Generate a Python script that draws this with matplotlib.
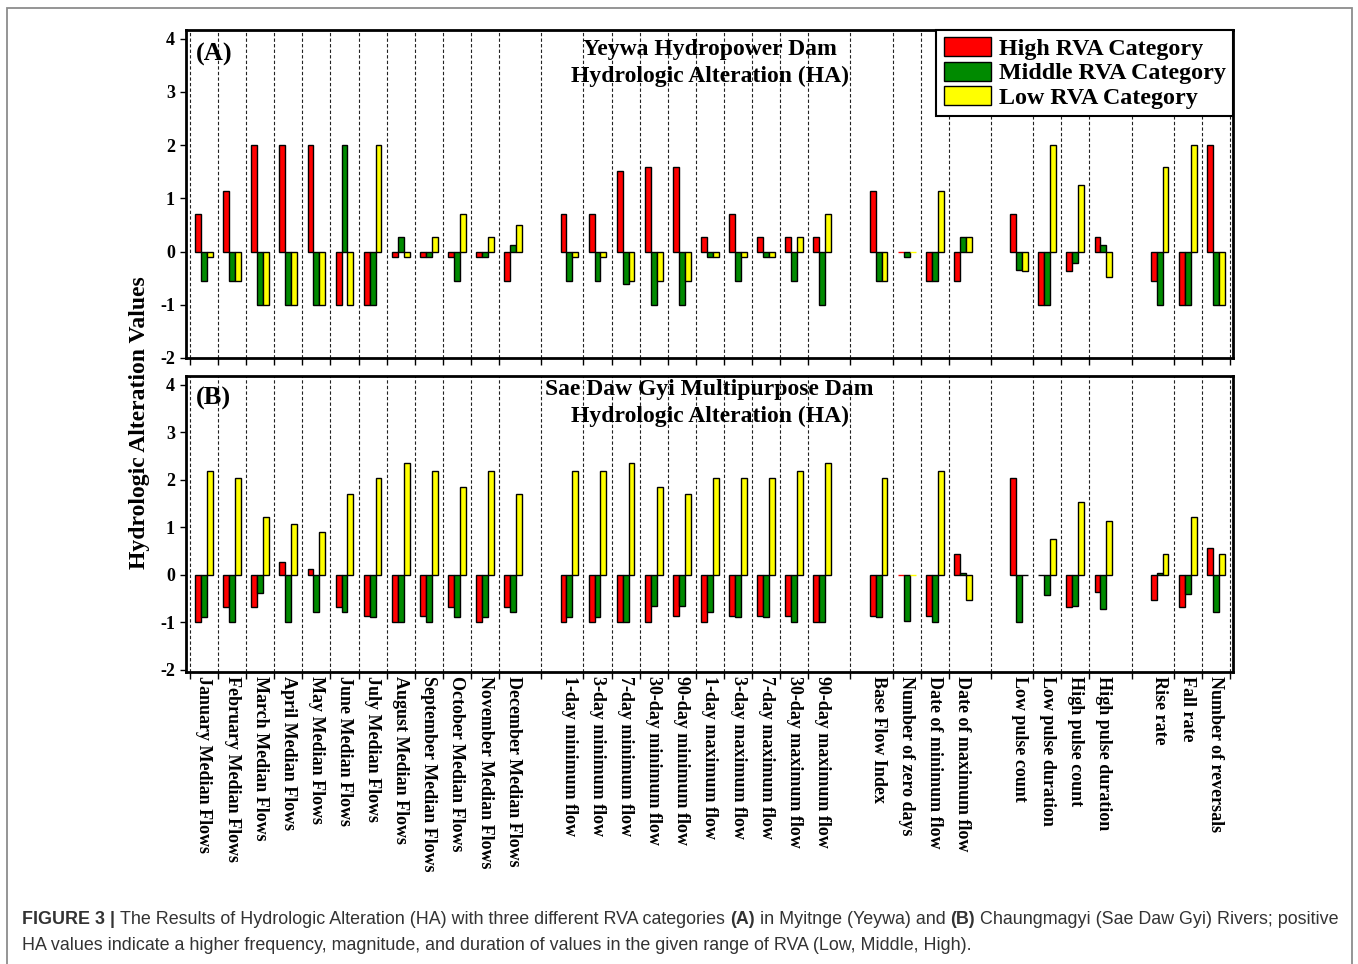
import matplotlib
matplotlib.use('Agg')
import matplotlib.pyplot as plt
from matplotlib.patches import Rectangle

# categories (5 groups, a blank slot between groups)
labels = ['January Median Flows', 'February Median Flows', 'March Median Flows',
          'April Median Flows', 'May Median Flows', 'June Median Flows',
          'July Median Flows', 'August Median Flows', 'September Median Flows',
          'October Median Flows', 'November Median Flows', 'December Median Flows',
          '1-day minimum flow', '3-day minimum flow', '7-day minimum flow',
          '30-day minimum flow', '90-day minimum flow', '1-day maximum flow',
          '3-day maximum flow', '7-day maximum flow', '30-day maximum flow',
          '90-day maximum flow',
          'Base Flow Index', 'Number of zero days', 'Date of minimum flow',
          'Date of maximum flow',
          'Low pulse count', 'Low pulse duration', 'High pulse count',
          'High pulse duration',
          'Rise rate', 'Fall rate', 'Number of reversals']
group_sizes = [12, 10, 4, 4, 3]

# (A) Yeywa
yeywa_high = [0.71, 1.13, 2, 2, 2, -1, -1, -0.11, -0.11, -0.11, -0.11, -0.56,
              0.71, 0.71, 1.51, 1.59, 1.59, 0.28, 0.71, 0.28, 0.28, 0.28,
              1.13, 0, -0.56, -0.56,
              0.71, -1, -0.37, 0.28,
              -0.56, -1, 2]
yeywa_middle = [-0.56, -0.56, -1, -1, -1, 2, -1, 0.28, -0.11, -0.56, -0.11, 0.13,
                -0.56, -0.56, -0.61, -1, -1, -0.11, -0.56, -0.11, -0.56, -1,
                -0.56, -0.11, -0.56, 0.28,
                -0.34, -1, -0.21, 0.13,
                -1, -1, -1]
yeywa_low = [-0.11, -0.56, -1, -1, -1, -1, 2, -0.11, 0.28, 0.71, 0.28, 0.5,
             -0.11, -0.11, -0.56, -0.56, -0.56, -0.11, -0.11, -0.11, 0.28, 0.71,
             -0.56, 0, 1.13, 0.28,
             -0.37, 2, 1.24, -0.48,
             1.59, 2, -1]

# (B) Sae Daw Gyi
sae_high = [-1, -0.69, -0.69, 0.26, 0.11, -0.69, -0.87, -1, -0.87, -0.69, -1, -0.69,
            -1, -1, -1, -1, -0.87, -1, -0.87, -0.87, -0.87, -1,
            -0.87, 0, -0.87, 0.43,
            2.03, -0.01, -0.69, -0.37,
            -0.54, -0.69, 0.57]
sae_middle = [-0.9, -1, -0.39, -1, -0.78, -0.78, -0.9, -1, -1, -0.9, -0.9, -0.78,
              -0.9, -0.9, -1, -0.67, -0.67, -0.78, -0.9, -0.9, -1, -1,
              -0.9, -0.97, -1, 0.04,
              -1, -0.42, -0.67, -0.72,
              0.04, -0.4, -0.78]
sae_low = [2.17, 2.03, 1.22, 1.07, 0.9, 1.7, 2.03, 2.35, 2.17, 1.85, 2.17, 1.7,
           2.17, 2.17, 2.35, 1.85, 1.7, 2.03, 2.03, 2.03, 2.17, 2.35,
           2.03, 0, 2.17, -0.54,
           -0.01, 0.75, 1.53, 1.13,
           0.43, 1.22, 0.43]

series_names = ['High RVA Category', 'Middle RVA Category', 'Low RVA Category']
colors = ['#ff0000', '#008a00', '#ffff00']

SERIF = 'Liberation Serif'

# slot positions + boundary lines
pos = []
lines = [-0.5]
slot = 0
for gi, n in enumerate(group_sizes):
    for k in range(n):
        pos.append(slot)
        if k < n - 1:
            lines.append(slot + 0.5)
        slot += 1
    if gi < len(group_sizes) - 1:
        lines.append(slot)  # middle of the gap slot
        slot += 1
lines.append(slot - 0.5)

fig = plt.figure(figsize=(13.58, 9.64), dpi=100)
W, H = 1358, 964


def make_panel(rect, data, ylim, title, tag, title_y, legend=False, xlabels=False):
    ax = fig.add_axes(rect)
    bw = 0.21
    for i, (vals, c, name) in enumerate(zip(data, colors, series_names)):
        xs = [p + (i - 1) * bw for p in pos]
        edges = ['black' if v != 0 else c for v in vals]
        ax.bar(xs, vals, width=bw, color=c, edgecolor=edges, linewidth=1.0,
               label=name, zorder=3)
    for xl in lines:
        ax.axvline(xl, color='#222222', lw=0.8, ls=(0, (3, 2)), zorder=1)
    ax.set_xlim(-0.64, lines[-1] + 0.11)
    ax.set_ylim(*ylim)
    ax.set_yticks(range(-2, 5))
    ax.set_yticklabels([str(v) for v in range(-2, 5)], fontfamily=SERIF,
                       fontweight='bold', fontsize=13)
    ax.tick_params(axis='y', length=4, width=1, pad=4)
    ax.set_xticks(pos)
    if xlabels:
        ax.set_xticklabels(labels, rotation=270, fontfamily=SERIF,
                           fontweight='bold', fontsize=13, va='top', ha='center')
    else:
        ax.set_xticklabels([])
    ax.tick_params(axis='x', which='major', length=0, pad=3)
    ax.set_xticks(lines, minor=True)
    ax.tick_params(axis='x', which='minor', length=5, width=1)
    for s in ax.spines.values():
        s.set_linewidth(2)
    ax.text(0.5, title_y, title, transform=ax.transAxes, ha='center', va='top',
            fontfamily=SERIF, fontweight='bold', fontsize=17, linespacing=1.35)
    ax.text(0.009, 0.925, tag, transform=ax.transAxes, ha='left', va='center',
            fontfamily=SERIF, fontweight='bold', fontsize=19)
    if legend:
        leg = ax.legend(loc='upper right', borderaxespad=0, fancybox=False,
                        edgecolor='black', framealpha=1,
                        prop={'family': SERIF, 'weight': 'bold', 'size': 17.3},
                        handlelength=1.95, handleheight=0.85, labelspacing=0.06,
                        handletextpad=0.35, borderpad=0.3)
        leg.get_frame().set_linewidth(1.5)
        leg.set_zorder(5)
    return ax


axA = make_panel([186 / W, 1 - 358 / H, 1047 / W, 328 / H],
                 [yeywa_high, yeywa_middle, yeywa_low], (-2.0, 4.16),
                 'Yeywa Hydropower Dam\nHydrologic Alteration (HA)', '(A)', 0.972,
                 legend=True)
axB = make_panel([186 / W, 1 - 672 / H, 1047 / W, 296 / H],
                 [sae_high, sae_middle, sae_low], (-2.05, 4.18),
                 'Sae Daw Gyi Multipurpose Dam\nHydrologic Alteration (HA)', '(B)', 0.99,
                 xlabels=True)

fig.text(140 / W, 1 - 423 / H, 'Hydrologic Alteration Values', rotation=90,
         ha='center', va='center', fontfamily=SERIF, fontweight='bold',
         fontsize=17)

# outer border
fig.add_artist(Rectangle((7 / W, -0.02), (1352 - 7) / W, 1 - 8 / H + 0.02,
                         transform=fig.transFigure, fill=False,
                         edgecolor='#8c8c8c', lw=1.3))

# caption, mixed bold / normal pieces
cap = fig.add_axes([0, 0, 1, 1])
cap.axis('off')
cap.set_zorder(-1)
CAP = dict(fontfamily='Liberation Sans', fontsize=12.85, color='#333333',
           va='baseline', ha='left')
line1 = [('FIGURE 3 |', True),
         ('The Results of Hydrologic Alteration (HA) with three different RVA categories', False),
         ('(A)', True), ('in Myitnge (Yeywa) and', False), ('(B)', True),
         ('Chaungmagyi (Sae Daw Gyi) Rivers; positive', False)]
line2 = [('HA values indicate a higher frequency, magnitude, and duration of values '
          'in the given range of RVA (Low, Middle, High).', False)]


def caption_line(pieces, y):
    prev = None
    for txt, bold in pieces:
        w = 'bold' if bold else 'normal'
        if prev is None:
            prev = cap.text(22 / W, y, txt, transform=fig.transFigure,
                            fontweight=w, **CAP)
        else:
            prev = cap.annotate(txt, xy=(1, y), xycoords=(prev, fig.transFigure),
                                xytext=(3.6, 0), textcoords='offset points',
                                fontweight=w, **CAP)


caption_line(line1, 1 - 924 / H)
caption_line(line2, 1 - 950 / H)

fig.savefig('out.png', dpi=100, facecolor='white')
